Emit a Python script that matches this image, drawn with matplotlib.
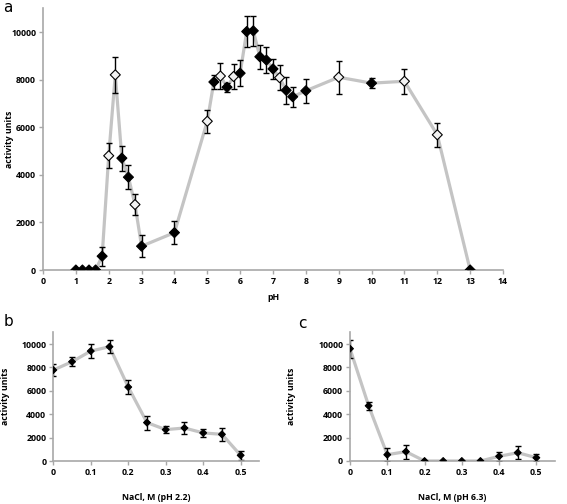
import matplotlib
matplotlib.use("Agg")
import matplotlib.pyplot as plt

plt.rcParams['font.family'] = ['Open Sans', 'DejaVu Sans']

# Panel a: activity vs pH
ph = [1, 1.2, 1.4, 1.6, 1.8, 2.0, 2.2, 2.4, 2.6, 2.8, 3.0, 4.0, 5.0, 5.2, 5.4, 5.6, 5.8, 6.0,
      6.2, 6.4, 6.6, 6.8, 7.0, 7.2, 7.4, 7.6, 8.0, 9.0, 10.0, 11.0, 12.0, 13.0]
act_a = [0, 0, 0, 0, 580, 4800, 8200, 4700, 3900, 2750, 1000, 1570, 6250, 7900, 8150, 7680, 8130, 8270,
         10020, 10050, 8960, 8820, 8450, 8080, 7550, 7280, 7530, 8100, 7850, 7930, 5680, 0]
err_a = [0, 0, 0, 0, 400, 520, 760, 520, 500, 430, 460, 470, 480, 300, 550, 180, 520, 550,
         650, 620, 500, 550, 420, 530, 560, 420, 500, 700, 200, 520, 500, 0]
hollow_a = [2.0, 2.2, 2.8, 5.0, 5.4, 5.8, 7.2, 9.0, 11.0, 12.0]

# Panel b: NaCl at pH 2.2
nacl = [0, 0.05, 0.1, 0.15, 0.2, 0.25, 0.3, 0.35, 0.4, 0.45, 0.5]
act_b = [7780, 8490, 9400, 9770, 6330, 3300, 2700, 2840, 2420, 2300, 510]
err_b = [510, 370, 570, 570, 600, 600, 310, 540, 370, 540, 370]

# Panel c: NaCl at pH 6.3
act_c = [9600, 4720, 540, 800, 0, 0, 0, 0, 400, 710, 280]
err_c = [770, 340, 540, 600, 0, 0, 0, 0, 400, 540, 280]

W, H = 567, 504
fig = plt.figure(figsize=(W / 100, H / 100), dpi=100)

def px_axes(left, top, right, bottom):
    return fig.add_axes([left / W, 1 - bottom / H, (right - left) / W, (bottom - top) / H])

GRAY_LINE = '#c4c4c4'
AX_GRAY = '#a8a8a8'
FS = 6.3

def style(ax, xticks, xticklabels):
    for s in ['top', 'right']:
        ax.spines[s].set_visible(False)
    for s in ['left', 'bottom']:
        ax.spines[s].set_color(AX_GRAY)
        ax.spines[s].set_linewidth(1.2)
    ax.set_ylim(0, 11000)
    ax.set_yticks([0, 2000, 4000, 6000, 8000, 10000])
    ax.set_yticklabels(['0', '2000', '4000', '6000', '8000', '10000'], fontsize=FS, fontweight='bold')
    ax.set_xticks(xticks)
    ax.set_xticklabels(xticklabels, fontsize=FS, fontweight='bold')
    ax.tick_params(axis='both', direction='out', length=3, width=1, color=AX_GRAY, pad=2)

def draw(ax, x, y, e, ms, hollow=()):
    ax.plot(x, y, color=GRAY_LINE, lw=2.3, zorder=1, solid_joinstyle='miter')
    ax.errorbar(x, y, yerr=e, fmt='none', ecolor='black', elinewidth=1.0, capsize=2.5, capthick=1.0, zorder=2)
    fill = ['#f2f2f2' if xi in hollow else 'black' for xi in x]
    ax.scatter(x, y, marker='D', s=ms, c=fill, edgecolors='black', linewidths=0.8, zorder=3)

def ylab(ax, xpx):
    ax.set_ylabel('activity units', fontsize=FS, fontweight='bold')
    ax.yaxis.set_label_coords(xpx / W, 0, transform=fig.transFigure)
    ax.yaxis.label.set_verticalalignment('center')
    # keep vertical center at axes middle
    bb = ax.get_position()
    ax.yaxis.set_label_coords(xpx / W, bb.y0 + bb.height / 2, transform=fig.transFigure)

def xlab(ax, text, ypx):
    ax.set_xlabel(text, fontsize=FS, fontweight='bold')
    bb = ax.get_position()
    ax.xaxis.set_label_coords(bb.x0 + bb.width / 2, 1 - ypx / H, transform=fig.transFigure)
    ax.xaxis.label.set_verticalalignment('center')

# Panel a
axa = px_axes(43, 8.2, 503, 270)
draw(axa, ph, act_a, err_a, 26, hollow_a)
axa.set_xlim(0, 14)
style(axa, list(range(0, 15)), [str(i) for i in range(0, 15)])
xlab(axa, 'pH', 297)
ylab(axa, 10)
fig.text(3 / W, 1 - 8 / H, 'a', fontsize=11, family='DejaVu Sans', va='center', ha='left')

# Panel b
nacl_ticks = [0, 0.1, 0.2, 0.3, 0.4, 0.5]
nacl_labels = ['0', '0.1', '0.2', '0.3', '0.4', '0.5']
axb = px_axes(53.3, 332.3, 259.4, 461.3)
draw(axb, nacl, act_b, err_b, 12)
axb.set_xlim(0, 0.55)
style(axb, nacl_ticks, nacl_labels)
xlab(axb, 'NaCl, M (pH 2.2)', 498)
ylab(axb, 6)
fig.text(4 / W, 1 - 322 / H, 'b', fontsize=11, family='DejaVu Sans', va='center', ha='left')

# Panel c
axc = px_axes(350, 332.3, 555, 461)
draw(axc, nacl, act_c, err_c, 12)
axc.set_xlim(0, 0.55)
style(axc, nacl_ticks, nacl_labels)
xlab(axc, 'NaCl, M (pH 6.3)', 498)
ylab(axc, 292)
fig.text(298 / W, 1 - 324 / H, 'c', fontsize=11, family='DejaVu Sans', va='center', ha='left')

fig.savefig('out.png', dpi=100)
